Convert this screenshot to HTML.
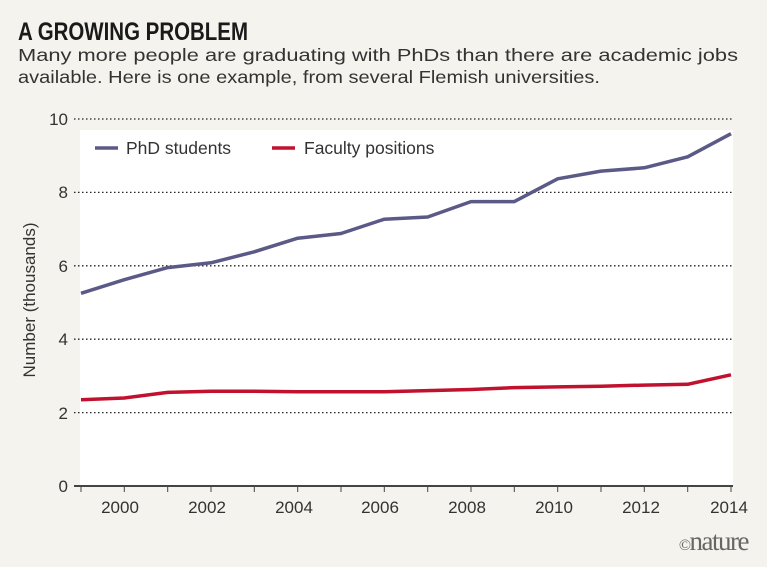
<!DOCTYPE html>
<html><head><style>
body{margin:0;background:#f4f3ed;}
svg{display:block;font-family:"Liberation Sans",sans-serif;}
</style></head><body>
<svg width="767" height="567" viewBox="0 0 767 567">
<rect width="767" height="567" fill="#f4f3ed"/>
<text x="18" y="40" font-size="25" font-weight="bold" fill="#1a1a1a" textLength="230" lengthAdjust="spacingAndGlyphs">A GROWING PROBLEM</text>
<text x="18" y="61" font-size="17.5" fill="#333" textLength="720" lengthAdjust="spacingAndGlyphs">Many more people are graduating with PhDs than there are academic jobs</text>
<text x="18" y="83" font-size="17.5" fill="#333" textLength="582" lengthAdjust="spacingAndGlyphs">available. Here is one example, from several Flemish universities.</text>
<rect x="80" y="130" width="653" height="356" fill="#fff"/>
<g stroke="#222" stroke-width="1.3" stroke-dasharray="1.5,2.5">
<line x1="74" y1="119" x2="733" y2="119"/>
<line x1="74" y1="192.4" x2="733" y2="192.4"/>
<line x1="74" y1="265.8" x2="733" y2="265.8"/>
<line x1="74" y1="339.2" x2="733" y2="339.2"/>
<line x1="74" y1="412.6" x2="733" y2="412.6"/>
</g>
<line x1="74" y1="486" x2="733" y2="486" stroke="#444" stroke-width="2"/>
<g stroke="#444" stroke-width="1">
<line x1="81" y1="486" x2="81" y2="492"/><line x1="124.3" y1="486" x2="124.3" y2="492"/><line x1="167.7" y1="486" x2="167.7" y2="492"/><line x1="211" y1="486" x2="211" y2="492"/><line x1="254.3" y1="486" x2="254.3" y2="492"/><line x1="297.7" y1="486" x2="297.7" y2="492"/><line x1="341" y1="486" x2="341" y2="492"/><line x1="384.3" y1="486" x2="384.3" y2="492"/><line x1="427.7" y1="486" x2="427.7" y2="492"/><line x1="471" y1="486" x2="471" y2="492"/><line x1="514.3" y1="486" x2="514.3" y2="492"/><line x1="557.7" y1="486" x2="557.7" y2="492"/><line x1="601" y1="486" x2="601" y2="492"/><line x1="644.3" y1="486" x2="644.3" y2="492"/><line x1="687.7" y1="486" x2="687.7" y2="492"/><line x1="731" y1="486" x2="731" y2="492"/>
</g>
<g font-size="17" fill="#333" text-anchor="end">
<text x="68" y="125">10</text><text x="68" y="198">8</text><text x="68" y="272">6</text><text x="68" y="345">4</text><text x="68" y="419">2</text><text x="68" y="492">0</text>
</g>
<g font-size="17" fill="#333" text-anchor="middle">
<text x="120" y="513">2000</text><text x="207" y="513">2002</text><text x="294" y="513">2004</text><text x="380" y="513">2006</text><text x="467" y="513">2008</text><text x="554" y="513">2010</text><text x="641" y="513">2012</text><text x="729" y="513">2014</text>
</g>
<text transform="translate(35,300) rotate(-90)" font-size="17" fill="#333" text-anchor="middle">Number (thousands)</text>
<polyline fill="none" stroke="#5b5a86" stroke-width="3.5" stroke-linejoin="round" points="81,293.3 124.3,279.7 167.7,267.6 211,262.8 254.3,251.8 297.7,238.2 341,233.5 384.3,219.2 427.7,217 471,201.6 514.3,201.6 557.7,178.8 601,171.1 644.3,167.8 687.7,156.8 731,133.7"/>
<polyline fill="none" stroke="#c0122e" stroke-width="3.5" stroke-linejoin="round" points="81,399.8 124.3,398 167.7,392.4 211,391.3 254.3,391.3 297.7,391.7 341,391.7 384.3,391.7 427.7,390.6 471,389.5 514.3,387.6 557.7,386.9 601,386.2 644.3,385.1 687.7,384.3 731,374.8"/>
<line x1="95" y1="148" x2="118" y2="148" stroke="#5b5a86" stroke-width="3.5"/>
<text x="126" y="154" font-size="17.5" fill="#333">PhD students</text>
<line x1="272" y1="148" x2="295" y2="148" stroke="#c0122e" stroke-width="3.5"/>
<text x="304" y="154" font-size="17.5" fill="#333">Faculty positions</text>
<text x="748" y="550" font-family="Liberation Serif,serif" font-size="27" fill="#666" text-anchor="end" letter-spacing="-1.5"><tspan font-size="16">©</tspan>nature</text>
</svg>
</body></html>
